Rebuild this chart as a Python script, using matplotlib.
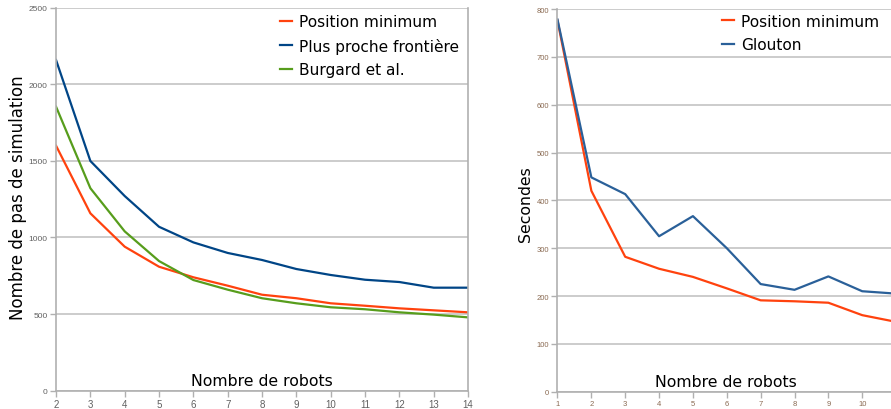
import matplotlib
matplotlib.use("Agg")
import matplotlib.pyplot as plt

# ---- data ----
robots_left = [2, 3, 4, 5, 6, 7, 8, 9, 10, 11, 12, 13, 14]
pos_min_left = [1600, 1158, 940, 809, 740, 685, 626, 603, 570, 554, 537, 524, 511]
plus_proche = [2160, 1500, 1271, 1070, 968, 899, 853, 794, 755, 724, 709, 672, 672]
burgard = [1855, 1322, 1040, 846, 722, 659, 603, 570, 544, 531, 511, 496, 478]

robots_right = [1, 2, 3, 4, 5, 6, 7, 8, 9, 10, 11]
pos_min_right = [776, 420, 282, 257, 240, 216, 191, 189, 186, 160, 146]
glouton = [778, 448, 413, 325, 367, 300, 225, 213, 241, 210, 205]

left_yticks = [0, 500, 1000, 1500, 2000, 2500]
right_yticks = [0, 100, 200, 300, 400, 500, 600, 700, 800]

RED = "#ff420e"
BLUE_DARK = "#004586"
GREEN = "#579d1c"
BLUE_RIGHT = "#2a6099"
GRID = "#c8c8c8"

plt.rcParams['font.family'] = ['DejaVu Sans']

fig = plt.figure(figsize=(8.91, 4.10), dpi=100)

def style(ax, xsize, ysize, labelcolor):
    for s in ['top', 'right']:
        ax.spines[s].set_visible(False)
    for s in ['left', 'bottom']:
        ax.spines[s].set_color("#b0b0b0")
        ax.spines[s].set_linewidth(1.2)
    ax.grid(axis='y', color=GRID, linewidth=1.3)
    ax.set_axisbelow(True)
    ax.tick_params(axis='both', colors="#b0b0b0", labelcolor=labelcolor,
                   length=4, width=1, pad=2)
    ax.tick_params(axis='x', labelsize=xsize)
    ax.tick_params(axis='y', labelsize=ysize)
    for lab in ax.get_xticklabels() + ax.get_yticklabels():
        lab.set_fontfamily('Liberation Sans')

LABEL_FS = 11.3
LEG_FS = 11.1

# ---- left chart ----
axL = fig.add_axes([0.0629, 0.0451, 0.4624, 0.933])
axL.plot(robots_left, pos_min_left, color=RED, lw=1.6, label="Position minimum")
axL.plot(robots_left, plus_proche, color=BLUE_DARK, lw=1.6, label="Plus proche frontière")
axL.plot(robots_left, burgard, color=GREEN, lw=1.6, label="Burgard et al.")
axL.set_xlim(2, 14)
axL.set_ylim(0, 2500)
axL.set_xticks(robots_left)
axL.set_yticks(left_yticks)
style(axL, 7, 6, "#606060")
axL.spines['right'].set_visible(True)
axL.spines['right'].set_color("#b0b0b0")
axL.spines['right'].set_linewidth(1.2)
axL.set_ylabel("Nombre de pas de simulation", fontsize=12)
axL.yaxis.set_label_coords(-0.07, 0.507)
axL.text(0.5, 0.027, "Nombre de robots", transform=axL.transAxes,
         ha='center', va='center', fontsize=LABEL_FS)
axL.legend(loc='upper left', bbox_to_anchor=(0.521, 1.008), frameon=False,
           fontsize=LEG_FS, handlelength=0.8, handletextpad=0.45,
           labelspacing=0.55, borderaxespad=0.2)

# ---- right chart ----
axR = fig.add_axes([0.6257, 0.0422, 0.3743, 0.9334])
axR.plot(robots_right, pos_min_right, color=RED, lw=1.6, label="Position minimum")
axR.plot(robots_right, glouton, color=BLUE_RIGHT, lw=1.6, label="Glouton")
axR.set_xlim(1, 10.85)
axR.set_ylim(0, 800)
axR.set_xticks(robots_right[:-1])
axR.set_yticks(right_yticks)
style(axR, 5.5, 5.5, "#8a6a52")
axR.set_ylabel("Secondes", fontsize=LABEL_FS)
axR.yaxis.set_label_coords(-0.073, 0.492)
axR.text(0.505, 0.027, "Nombre de robots", transform=axR.transAxes,
         ha='center', va='center', fontsize=LABEL_FS)
axR.legend(loc='upper left', bbox_to_anchor=(0.465, 1.012), frameon=False,
           fontsize=LEG_FS, handlelength=0.8, handletextpad=0.45,
           labelspacing=0.55, borderaxespad=0.2)

fig.savefig("out.png", dpi=100)
